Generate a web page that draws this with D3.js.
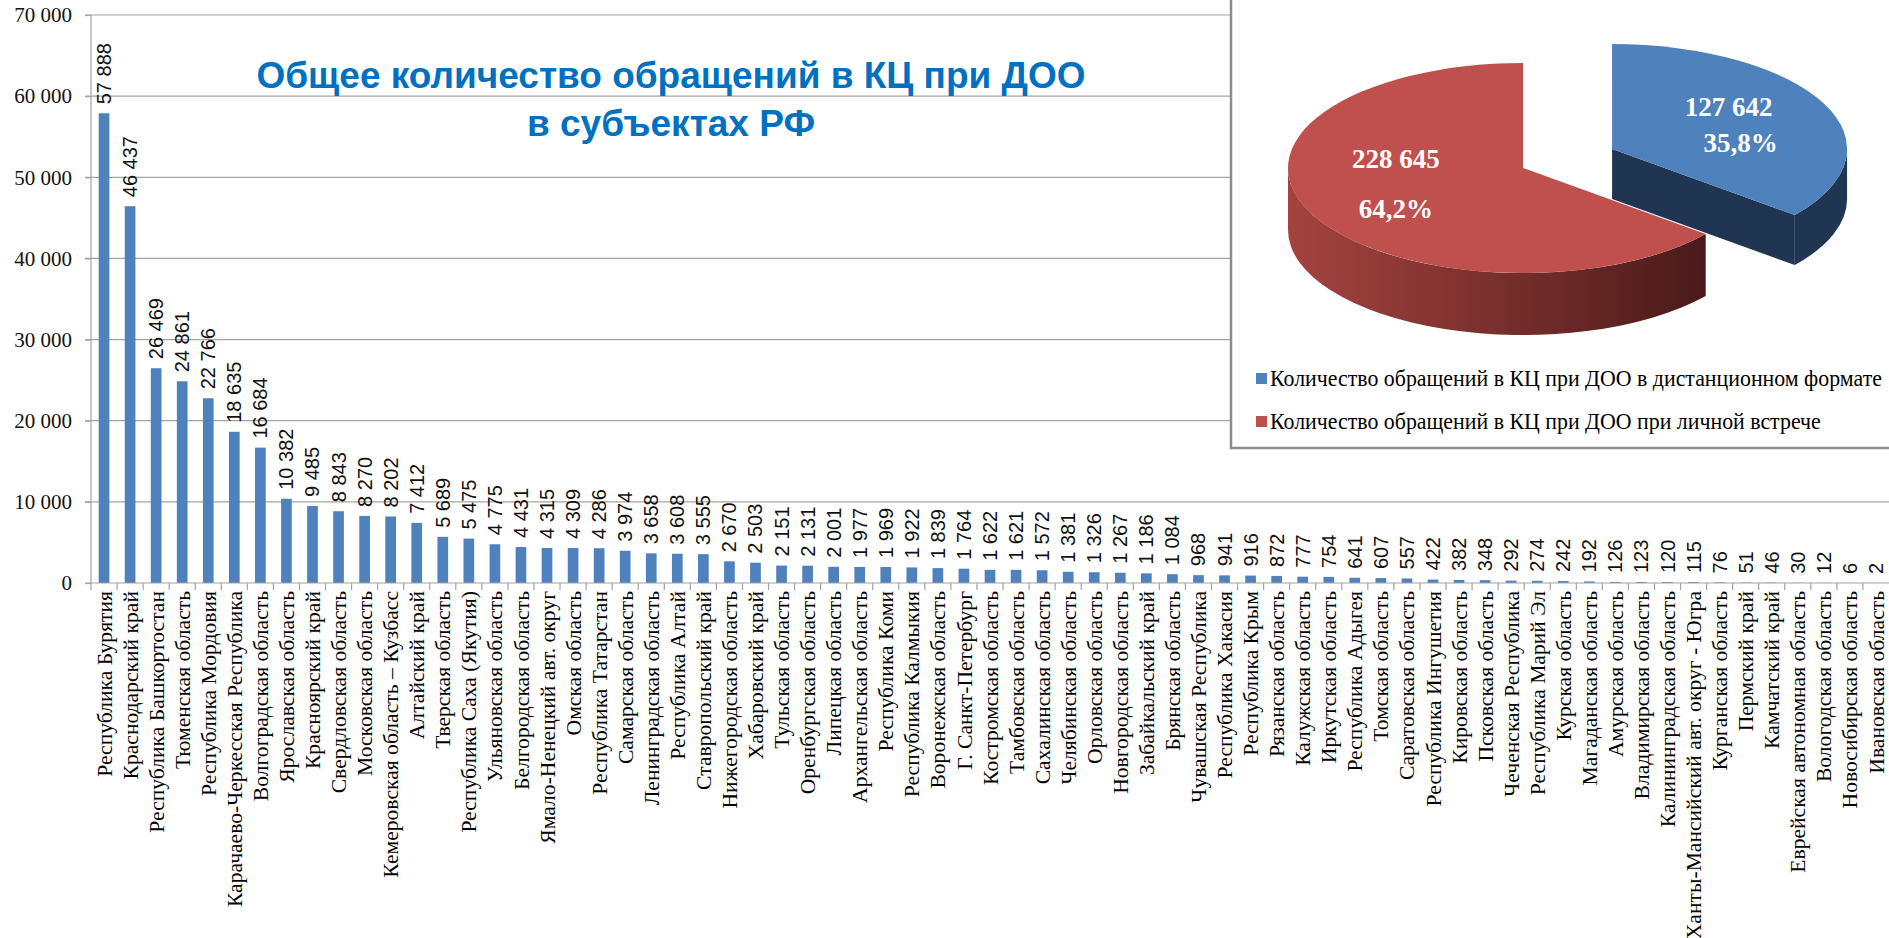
<!DOCTYPE html>
<html>
<head>
<meta charset="utf-8">
<script src="https://cdn.jsdelivr.net/npm/d3@7"></script>
<style>
  body { margin: 0; background: #fff; }
  svg { display: block; }
  .grid-line { stroke: #a3a3a3; stroke-width: 1.2; }
  .axis-line { stroke: #a3a3a3; stroke-width: 1.2; }
  .bar { fill: #4f81bd; }
  .value-label { font-family: "Liberation Sans", Arial, sans-serif; font-size: 20px; fill: #111; }
  .cat-label { font-family: "Liberation Serif", "Times New Roman", serif; font-size: 21.6px; fill: #000; }
  .y-label { font-family: "Liberation Serif", "Times New Roman", serif; font-size: 21px; fill: #111; }
  .title { font-family: "Liberation Sans", Arial, sans-serif; font-weight: bold; font-size: 37px; fill: #0070c0; }
  .pie-box { fill: #fff; stroke: #8c8c8c; stroke-width: 2.5; }
  .pie-label { font-family: "Liberation Serif", "Times New Roman", serif; font-weight: bold; font-size: 27px; fill: #fff; }
  .legend-text { font-family: "Liberation Serif", "Times New Roman", serif; font-size: 23px; fill: #000; }
</style>
</head>
<body>
<svg id="chart" width="1889" height="938"></svg>
<script>
// bar chart data: regions sorted by number of requests
const categories = [
    "Республика Бурятия", "Краснодарский край", "Республика Башкортостан", "Тюменская область",
    "Республика Мордовия", "Карачаево-Черкесская Республика", "Волгоградская область",
    "Ярославская область", "Красноярский край", "Свердловская область", "Московская область",
    "Кемеровская область – Кузбасс", "Алтайский край", "Тверская область", "Республика Саха (Якутия)",
    "Ульяновская область", "Белгородская область", "Ямало-Ненецкий авт. округ", "Омская область",
    "Республика Татарстан", "Самарская область", "Ленинградская область", "Республика Алтай",
    "Ставропольский край", "Нижегородская область", "Хабаровский край", "Тульская область",
    "Оренбургская область", "Липецкая область", "Архангельская область", "Республика Коми",
    "Республика Калмыкия", "Воронежская область", "Г. Санкт-Петербург", "Костромская область",
    "Тамбовская область", "Сахалинская область", "Челябинская область", "Орловская область",
    "Новгородская область", "Забайкальский край", "Брянская область", "Чувашская Республика",
    "Республика Хакасия", "Республика Крым", "Рязанская область", "Калужская область",
    "Иркутская область", "Республика Адыгея", "Томская область", "Саратовская область",
    "Республика Ингушетия", "Кировская область", "Псковская область", "Чеченская Республика",
    "Республика Марий Эл", "Курская область", "Магаданская область", "Амурская область",
    "Владимирская область", "Калининградская область", "Ханты-Мансийский авт. округ - Югра",
    "Курганская область", "Пермский край", "Камчатский край", "Еврейская автономная область",
    "Вологодская область", "Новосибирская область", "Ивановская область"
];
const values = [
    57888, 46437, 26469, 24861, 22766, 18635, 16684, 10382, 9485, 8843, 8270, 8202, 7412, 5689,
    5475, 4775, 4431, 4315, 4309, 4286, 3974, 3658, 3608, 3555, 2670, 2503, 2151, 2131, 2001,
    1977, 1969, 1922, 1839, 1764, 1622, 1621, 1572, 1381, 1326, 1267, 1186, 1084, 968, 941, 916,
    872, 777, 754, 641, 607, 557, 422, 382, 348, 292, 274, 242, 192, 126, 123, 120, 115, 76, 51,
    46, 30, 12, 6, 2
];
const yTicks = [0, 10000, 20000, 30000, 40000, 50000, 60000, 70000];
const titleLines = ["Общее количество обращений в КЦ при ДОО", "в субъектах РФ"];

// pie data
const pieCategories = [
    "Количество обращений в КЦ при ДОО в дистанционном формате",
    "Количество обращений в КЦ при ДОО при личной встрече"
];
const pieValues = [127642, 228645];

// styling for pie slices (top face, side)
const pieTop = ["#4f81bd", "#c0504d"];
const pieSide = ["#1f3552", "#9b3f3c"];

const svg = d3.select("#chart");
const fmt = v => d3.format(",")(v).replace(/,/g, " ");

const x = d3.scaleBand().domain(categories).range([91, 1889]).padding(0);
const y = d3.scaleLinear().domain([0, 70000]).range([583, 15]);
const barW = x.bandwidth() * 0.41;

// gridlines
svg.append("g").selectAll("line")
    .data(yTicks.filter(d => d > 0))
    .join("line")
    .attr("class", "grid-line")
    .attr("x1", 85).attr("x2", 1889)
    .attr("y1", d => y(d)).attr("y2", d => y(d));

// y axis
const yAxis = svg.append("g")
    .attr("transform", "translate(91,0)")
    .call(d3.axisLeft(y).tickValues(yTicks).tickSize(6).tickPadding(13).tickFormat(fmt));
yAxis.select(".domain").attr("class", "axis-line").attr("d", `M0,${y(70000)}V${y(0)}`);
yAxis.selectAll(".tick line").attr("stroke", "#a3a3a3").attr("stroke-width", 1.2);
yAxis.selectAll(".tick text").attr("class", "y-label").attr("fill", null);

// title
svg.append("g").selectAll("text")
    .data(titleLines)
    .join("text")
    .attr("class", "title")
    .attr("x", 671)
    .attr("y", (d, i) => 88 + i * 48)
    .attr("text-anchor", "middle")
    .text(d => d);

// bars
svg.append("g").selectAll("rect")
    .data(values)
    .join("rect")
    .attr("class", "bar")
    .attr("x", (d, i) => x(categories[i]) + (x.bandwidth() - barW) / 2)
    .attr("width", barW)
    .attr("y", d => y(d))
    .attr("height", d => y(0) - y(d));

// x axis line + ticks between categories
svg.append("line")
    .attr("class", "axis-line")
    .attr("x1", 85).attr("x2", 1889)
    .attr("y1", y(0)).attr("y2", y(0));
svg.append("g").selectAll("line")
    .data(categories)
    .join("line")
    .attr("class", "axis-line")
    .attr("x1", d => x(d)).attr("x2", d => x(d))
    .attr("y1", y(0)).attr("y2", y(0) + 7);

// value labels
svg.append("g").selectAll("text")
    .data(values)
    .join("text")
    .attr("class", "value-label")
    .attr("transform", (d, i) => `translate(${x(categories[i]) + x.bandwidth() / 2},${y(d) - 9}) rotate(-90)`)
    .attr("dy", "0.35em")
    .text(d => fmt(d));

// category labels
svg.append("g").selectAll("text")
    .data(categories)
    .join("text")
    .attr("class", "cat-label")
    .attr("transform", d => `translate(${x(d) + x.bandwidth() / 2},${y(0) + 8}) rotate(-90)`)
    .attr("text-anchor", "end")
    .attr("dy", "0.35em")
    .text(d => d);

// ---- pie inset ----
svg.append("rect")
    .attr("class", "pie-box")
    .attr("x", 1231).attr("y", -10)
    .attr("width", 700).attr("height", 458);

const arcs = d3.pie().sort(null).value(d => d)(pieValues);
const total = d3.sum(pieValues);
const pcx = 1523, pcy = 168, prx = 235, pry = 105, explode = 0.42;
const depths = [50, 62];          // exploded slice sits further back, looks thinner

// project a d3 pie angle onto the tilted ellipse
function pt(c, a, k = 1) {
    return [c[0] + prx * k * Math.sin(a), c[1] - pry * k * Math.cos(a)];
}
function topPath(c, a0, a1) {
    const p0 = pt(c, a0), p1 = pt(c, a1);
    const large = a1 - a0 > Math.PI ? 1 : 0;
    return `M${c}L${p0}A${prx},${pry} 0 ${large} 1 ${p1}Z`;
}
function rimPath(c, a0, a1, depth) {
    const s = Math.max(a0, Math.PI / 2), e = Math.min(a1, 3 * Math.PI / 2);
    if (e <= s) return null;
    const p0 = pt(c, s), p1 = pt(c, e);
    return `M${p0}A${prx},${pry} 0 0 1 ${p1}L${p1[0]},${p1[1] + depth}` +
           `A${prx},${pry} 0 0 0 ${p0[0]},${p0[1] + depth}Z`;
}
function cutPath(c, a, depth) {
    const p = pt(c, a);
    return `M${c}L${p}L${p[0]},${p[1] + depth}L${c[0]},${c[1] + depth}Z`;
}

const defs = svg.append("defs");
const grad = defs.append("linearGradient")
    .attr("id", "redSide")
    .attr("gradientUnits", "userSpaceOnUse")
    .attr("x1", pcx - prx).attr("x2", pcx + prx * Math.sin(arcs[1].startAngle))
    .attr("y1", 0).attr("y2", 0);
grad.append("stop").attr("offset", 0).attr("stop-color", "#a4433f");
grad.append("stop").attr("offset", 0.55).attr("stop-color", "#742d2b");
grad.append("stop").attr("offset", 1).attr("stop-color", "#4a1a1a");

// label layout per slice: [fraction of radius, offset of value line, offset of percent line, percent dx]
const pieLabelLayout = [[0.55, -18, 18, 12], [0.6, -37, 13, 0]];

const pieG = svg.append("g");
// draw exploded (back) slice first, then the front one
[0, 1].forEach(i => {
    const a = arcs[i];
    const mid = (a.startAngle + a.endAngle) / 2;
    const c = i === 0 ? pt([pcx, pcy], mid, explode) : [pcx, pcy];
    if (i === 0) {
        pieG.append("path").attr("d", cutPath(c, a.endAngle, depths[i])).attr("fill", pieSide[0]);
    }
    const rim = rimPath(c, a.startAngle, a.endAngle, depths[i]);
    if (rim) pieG.append("path").attr("d", rim).attr("fill", i === 1 ? "url(#redSide)" : pieSide[0]);
    pieG.append("path").attr("d", topPath(c, a.startAngle, a.endAngle)).attr("fill", pieTop[i]);

    const [frac, off1, off2, pdx] = pieLabelLayout[i];
    const lp = pt(c, mid, frac);
    const pct = d3.format(".1%")(a.value / total).replace(".", ",");
    pieG.append("text").attr("class", "pie-label")
        .attr("x", lp[0]).attr("y", lp[1] + off1).attr("dy", "0.35em")
        .attr("text-anchor", "middle").text(fmt(a.value));
    pieG.append("text").attr("class", "pie-label")
        .attr("x", lp[0] + pdx).attr("y", lp[1] + off2).attr("dy", "0.35em")
        .attr("text-anchor", "middle").text(pct);
});

// legend (text is condensed horizontally as in the original slide)
const legend = svg.append("g").selectAll("g")
    .data(pieCategories)
    .join("g")
    .attr("transform", (d, i) => `translate(1256,${373 + i * 43})`);
legend.append("rect")
    .attr("width", 11).attr("height", 11)
    .attr("fill", (d, i) => pieTop[i]);
const legendText = legend.append("text")
    .attr("class", "legend-text")
    .attr("y", 13)
    .text(d => d);
const natural = legendText.node().getComputedTextLength();
const squeeze = 612 / natural;
legendText.attr("transform", `translate(14,0) scale(${squeeze},1)`);
</script>
</body>
</html>
